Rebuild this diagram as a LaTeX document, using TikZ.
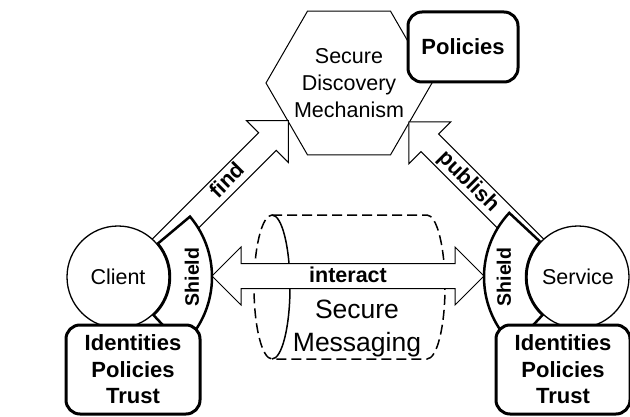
\documentclass[tikz,border=0pt]{standalone}
\usepackage{fontspec}
\setmainfont{Liberation Sans}
\usetikzlibrary{shapes.geometric,shapes.arrows,calc}

\begin{document}
\begin{tikzpicture}[x=1pt,y=1pt,
        party/.style={circle,draw,line width=1.3pt,fill=white,minimum size=102pt,
            inner sep=0pt,font=\fontsize{21.5}{26}\selectfont},
        infobox/.style={draw,line width=3pt,rounded corners=14pt,fill=white,
            align=center,inner sep=0pt,font=\fontsize{22}{26.5}\selectfont\bfseries},
        shield/.style={draw,line width=2.5pt,fill=white},
        shield text/.style={rotate=90,font=\fontsize{19.5}{20}\selectfont\bfseries},
        flow text/.style={text height=14.5pt,text depth=2.5pt,inner ysep=3.5pt,inner xsep=0pt,
            font=\fontsize{21.5}{22}\selectfont\bfseries},
        flow/.style={flow text,draw,fill=white,line width=1pt},
        one way/.style={flow,single arrow,single arrow head extend=17pt,single arrow tip angle=90},
        two way/.style={flow,double arrow,double arrow head extend=16.5pt,double arrow tip angle=90},
        pipe/.style={line width=1.5pt}]

        \useasboundingbox (0,0) rectangle (630,416);

        % Secure messaging channel
        \coordinate (msgl) at (272,129);
        \coordinate (msgr) at (427,129);
        \draw[pipe,dash pattern=on 10pt off 5pt] ([yshift=72pt]msgl) -- ([yshift=72pt]msgr)
            arc[start angle=90,end angle=-90,x radius=18,y radius=72] -- ([yshift=-72pt]msgl)
            arc[start angle=270,end angle=90,x radius=18,y radius=72];
        \draw[pipe] ([yshift=72pt]msgl) arc[start angle=90,end angle=-90,x radius=18,y radius=72];
        \node[font=\fontsize{26.5}{33}\selectfont,align=center] (msg) at (357,88) {Secure\\Messaging};

        % Discovery
        \node[regular polygon,regular polygon sides=6,draw,line width=1pt,minimum size=166pt,
            inner sep=0pt] (sdm) at (349,333) {};
        \node[align=center,font=\fontsize{21.5}{27}\selectfont] (sdmtext) at (sdm.center)
            {Secure\\Discovery\\Mechanism};
        \node[infobox,minimum width=110pt,minimum height=70pt] (pol) at (463,369) {Policies};

        % Flows
        \coordinate (findtail) at (156.8,163.8);
        \coordinate (pubtail) at (539.2,163.8);
        \node[one way,rotate=45,anchor=tail,minimum height=185.5pt] (find) at (findtail) {};
        \node[one way,shape border rotate=180,rotate=-45,anchor=tail,minimum height=183.7pt]
            (publish) at (pubtail) {};
        \node[flow text,rotate=45] (findlabel) at ($(find.tail)!0.54!(find.tip)$) {find};
        \node[flow text,rotate=-45] (publabel) at ($(publish.tail)!0.54!(publish.tip)$) {publish};
        \node[two way,minimum height=272pt] (interact) at (348,140) {interact};

        % Parties
        \node[party] (client) at (118,139) {Client};
        \node[party] (service) at (578,139) {Service};

        % Shields
        \draw[shield] ([shift={(-47:52)}]client.center) arc[start angle=-47,end angle=40,radius=52]
            -- ([shift={(40:94)}]client.center) arc[start angle=40,end angle=-47,radius=94] -- cycle;
        \draw[shield] ([shift={(137:52)}]service.center) arc[start angle=137,end angle=227,radius=52]
            -- ([shift={(227:94)}]service.center) arc[start angle=227,end angle=137,radius=94] -- cycle;
        \node[shield text] (cshield) at ([shift={(0:74)}]client.center) {Shield};
        \node[shield text] (sshield) at ([shift={(180:74)}]service.center) {Shield};

        % Local stores
        \node[infobox,minimum width=134pt,minimum height=89pt] (cstore) at (133,46.5)
            {Identities\\Policies\\Trust};
        \node[infobox,minimum width=134pt,minimum height=89pt] (sstore) at (563,46.5)
            {Identities\\Policies\\Trust};

\end{tikzpicture}
\end{document}
